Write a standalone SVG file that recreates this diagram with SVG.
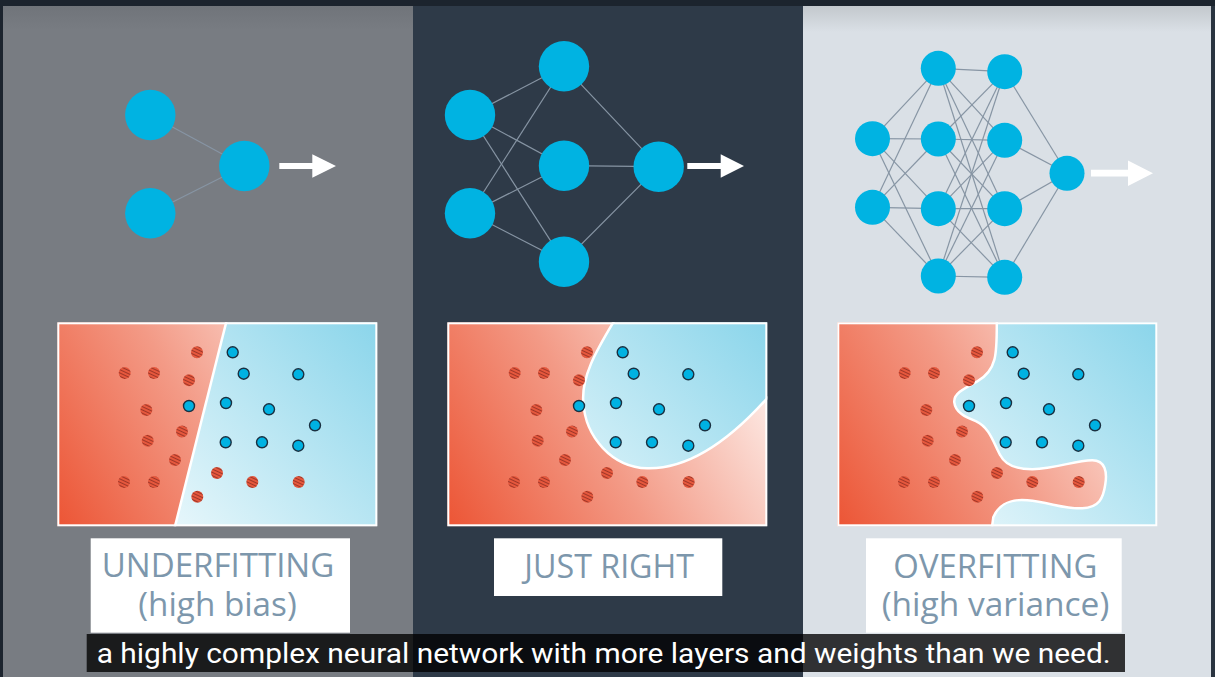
<svg xmlns="http://www.w3.org/2000/svg" width="1215" height="677" viewBox="0 0 1215 677">
<style>
.neuron{fill:#00b3e2}
.wire{stroke:#8795a4;stroke-width:1.2;fill:none}
.arrow{fill:#ffffff}
.red{fill:url(#hatch)}
.blue{fill:#00b2e2;stroke:#1a3041;stroke-width:1.4}
.bound{fill:none;stroke:#ffffff;stroke-width:2.5}
.frame{fill:none;stroke:#ffffff;stroke-width:2}
.lbl{font-family:"Open Sans","Liberation Sans",sans-serif;font-weight:400;font-size:33px;fill:#7d97ac}
.box{fill:#ffffff}
.cap{font-family:Roboto,"Liberation Sans",sans-serif;font-size:27px;fill:#ffffff}
</style>
<defs>
<pattern id="hatch" patternUnits="userSpaceOnUse" width="4" height="3" patternTransform="rotate(25)">
<rect width="4" height="3" fill="#ea5a3e"/>
<line x1="0" y1="1.5" x2="4" y2="1.5" stroke="#9e3628" stroke-width="1.1"/>
</pattern>
<linearGradient id="gRed" gradientUnits="userSpaceOnUse" x1="0" y1="204" x2="300" y2="30">
<stop offset="0" stop-color="#ec5535"/>
<stop offset="0.5" stop-color="#f39a86"/>
<stop offset="1" stop-color="#fdebe6"/>
</linearGradient>
<linearGradient id="gBlue" gradientUnits="userSpaceOnUse" x1="110" y1="204" x2="320" y2="10">
<stop offset="0" stop-color="#e8f7fb"/>
<stop offset="1" stop-color="#8dd6eb"/>
</linearGradient>
<linearGradient id="gTopR" x1="0" y1="0" x2="0" y2="1">
<stop offset="0" stop-color="#c3c8cd"/>
<stop offset="1" stop-color="#dae0e6"/>
</linearGradient>
<linearGradient id="gTopL" x1="0" y1="0" x2="0" y2="1">
<stop offset="0" stop-color="#70747a"/>
<stop offset="1" stop-color="#787c82"/>
</linearGradient>
<clipPath id="plotClip"><rect x="0" y="0" width="320" height="204"/></clipPath>
<g id="dots">
<circle class="red" cx="139.7" cy="30" r="6"/>
<circle class="red" cx="67.4" cy="50.7" r="6"/>
<circle class="red" cx="96.7" cy="50.7" r="6"/>
<circle class="red" cx="131.7" cy="58" r="6"/>
<circle class="red" cx="89" cy="87.7" r="6"/>
<circle class="red" cx="124.7" cy="109.3" r="6"/>
<circle class="red" cx="90.4" cy="118.4" r="6"/>
<circle class="red" cx="117.7" cy="137.7" r="6"/>
<circle class="red" cx="159.7" cy="150.7" r="6"/>
<circle class="red" cx="66.7" cy="159.7" r="6"/>
<circle class="red" cx="96.7" cy="159.7" r="6"/>
<circle class="red" cx="195" cy="159.7" r="6"/>
<circle class="red" cx="241.4" cy="159.7" r="6"/>
<circle class="red" cx="140" cy="174.4" r="6"/>
<circle class="blue" cx="175.4" cy="30" r="5.5"/>
<circle class="blue" cx="186.4" cy="51.4" r="5.5"/>
<circle class="blue" cx="241" cy="52" r="5.5"/>
<circle class="blue" cx="131.7" cy="83.7" r="5.5"/>
<circle class="blue" cx="168.7" cy="80.7" r="5.5"/>
<circle class="blue" cx="211.7" cy="87" r="5.5"/>
<circle class="blue" cx="257.7" cy="103" r="5.5"/>
<circle class="blue" cx="168.4" cy="120" r="5.5"/>
<circle class="blue" cx="204.7" cy="120" r="5.5"/>
<circle class="blue" cx="241" cy="123.4" r="5.5"/>
</g>
</defs>

<!-- backgrounds -->
<rect x="0" y="0" width="1215" height="677" fill="#1c242e"/>
<rect x="3" y="6" width="410" height="671" fill="#787c82"/>
<rect x="3" y="6" width="410" height="24" fill="url(#gTopL)"/>
<rect x="413" y="6" width="390" height="671" fill="#2e3a48"/>
<rect x="803" y="6" width="408" height="671" fill="#dae0e6"/>
<rect x="803" y="6" width="408" height="26" fill="url(#gTopR)"/>
<rect x="1211" y="6" width="4" height="671" fill="#2a3440"/>

<!-- connectors -->
<g id="connectors">
<line class="wire" x1="150.3" y1="115" x2="244.3" y2="166"/>
<line class="wire" x1="150.3" y1="213.3" x2="244.3" y2="166"/>

<line class="wire" x1="470" y1="115" x2="564" y2="66.3"/>
<line class="wire" x1="470" y1="115" x2="564" y2="165.7"/>
<line class="wire" x1="470" y1="115" x2="564" y2="261.7"/>
<line class="wire" x1="470" y1="213.3" x2="564" y2="66.3"/>
<line class="wire" x1="470" y1="213.3" x2="564" y2="165.7"/>
<line class="wire" x1="470" y1="213.3" x2="564" y2="261.7"/>
<line class="wire" x1="564" y1="66.3" x2="658.7" y2="166.7"/>
<line class="wire" x1="564" y1="165.7" x2="658.7" y2="166.7"/>
<line class="wire" x1="564" y1="261.7" x2="658.7" y2="166.7"/>

<g stroke-width="1">
<line class="wire" x1="872.5" y1="138.7" x2="938.3" y2="68.3"/>
<line class="wire" x1="872.5" y1="138.7" x2="938.3" y2="139"/>
<line class="wire" x1="872.5" y1="138.7" x2="938.3" y2="208.7"/>
<line class="wire" x1="872.5" y1="138.7" x2="938.3" y2="276"/>
<line class="wire" x1="872.5" y1="207.3" x2="938.3" y2="68.3"/>
<line class="wire" x1="872.5" y1="207.3" x2="938.3" y2="139"/>
<line class="wire" x1="872.5" y1="207.3" x2="938.3" y2="208.7"/>
<line class="wire" x1="872.5" y1="207.3" x2="938.3" y2="276"/>

<line class="wire" x1="938.3" y1="68.3" x2="1004.7" y2="71.7"/>
<line class="wire" x1="938.3" y1="68.3" x2="1004.7" y2="140.3"/>
<line class="wire" x1="938.3" y1="68.3" x2="1004.7" y2="208.7"/>
<line class="wire" x1="938.3" y1="68.3" x2="1004.7" y2="277.3"/>
<line class="wire" x1="938.3" y1="139" x2="1004.7" y2="71.7"/>
<line class="wire" x1="938.3" y1="139" x2="1004.7" y2="140.3"/>
<line class="wire" x1="938.3" y1="139" x2="1004.7" y2="208.7"/>
<line class="wire" x1="938.3" y1="139" x2="1004.7" y2="277.3"/>
<line class="wire" x1="938.3" y1="208.7" x2="1004.7" y2="71.7"/>
<line class="wire" x1="938.3" y1="208.7" x2="1004.7" y2="140.3"/>
<line class="wire" x1="938.3" y1="208.7" x2="1004.7" y2="208.7"/>
<line class="wire" x1="938.3" y1="208.7" x2="1004.7" y2="277.3"/>
<line class="wire" x1="938.3" y1="276" x2="1004.7" y2="71.7"/>
<line class="wire" x1="938.3" y1="276" x2="1004.7" y2="140.3"/>
<line class="wire" x1="938.3" y1="276" x2="1004.7" y2="208.7"/>
<line class="wire" x1="938.3" y1="276" x2="1004.7" y2="277.3"/>

<line class="wire" x1="1004.7" y1="71.7" x2="1067" y2="173.3"/>
<line class="wire" x1="1004.7" y1="140.3" x2="1067" y2="173.3"/>
<line class="wire" x1="1004.7" y1="208.7" x2="1067" y2="173.3"/>
<line class="wire" x1="1004.7" y1="277.3" x2="1067" y2="173.3"/>
</g>

<path class="arrow" d="M279.3,163 H312.3 V154.3 L336,166 L312.3,177.7 V169 H279.3 Z"/>
<path class="arrow" d="M687.3,163 H720.7 V154.3 L744,166 L720.7,177.7 V169 H687.3 Z"/>
<path class="arrow" d="M1091,169.8 H1128 V160.5 L1153,173.3 L1128,186 V176.6 H1091 Z"/>
</g>

<!-- neurons: underfitting net -->
<g id="net-under">
<circle id="u-in1" class="neuron" cx="150.3" cy="115" r="25.2"/>
<circle id="u-in2" class="neuron" cx="150.3" cy="213.3" r="25.2"/>
<circle id="u-out" class="neuron" cx="244.3" cy="166" r="25.2"/>
</g>

<g id="net-right">
<circle id="r-in1" class="neuron" cx="470" cy="115" r="25.2"/>
<circle id="r-in2" class="neuron" cx="470" cy="213.3" r="25.2"/>
<circle id="r-h1" class="neuron" cx="564" cy="66.3" r="25.2"/>
<circle id="r-h2" class="neuron" cx="564" cy="165.7" r="25.2"/>
<circle id="r-h3" class="neuron" cx="564" cy="261.7" r="25.2"/>
<circle id="r-out" class="neuron" cx="658.7" cy="166.7" r="25.2"/>
</g>

<g id="net-over">
<circle id="o-in1" class="neuron" cx="872.5" cy="138.7" r="17.5"/>
<circle id="o-in2" class="neuron" cx="872.5" cy="207.3" r="17.5"/>
<circle id="o-a1" class="neuron" cx="938.3" cy="68.3" r="17.5"/>
<circle id="o-a2" class="neuron" cx="938.3" cy="139" r="17.5"/>
<circle id="o-a3" class="neuron" cx="938.3" cy="208.7" r="17.5"/>
<circle id="o-a4" class="neuron" cx="938.3" cy="276" r="17.5"/>
<circle id="o-b1" class="neuron" cx="1004.7" cy="71.7" r="17.5"/>
<circle id="o-b2" class="neuron" cx="1004.7" cy="140.3" r="17.5"/>
<circle id="o-b3" class="neuron" cx="1004.7" cy="208.7" r="17.5"/>
<circle id="o-b4" class="neuron" cx="1004.7" cy="277.3" r="17.5"/>
<circle id="o-out" class="neuron" cx="1067" cy="173.3" r="17.5"/>
</g>

<!-- plots -->
<g id="plot-under" transform="translate(57.3,322.3)">
<g clip-path="url(#plotClip)">
<rect width="320" height="204" fill="url(#gRed)"/>
<path d="M169.4,0 L117.7,204 L320,204 L320,0 Z" fill="url(#gBlue)"/>
<path class="bound" d="M169.4,-2 L117.2,206"/>
</g>
<use href="#dots"/>
<rect class="frame" x="1" y="1" width="318" height="202"/>
</g>

<g id="plot-right" transform="translate(447.3,322.3)">
<g clip-path="url(#plotClip)">
<rect width="320" height="204" fill="url(#gRed)"/>
<path d="M166,0 C148,30 134,55 136,80 C138,115 165,145 200,146 C240,147 280,120 318,78 L320,76 L320,0 Z" fill="url(#gBlue)"/>
<path class="bound" d="M167,-2 L166,0 C148,30 134,55 136,80 C138,115 165,145 200,146 C240,147 280,120 318,78 L322,74"/>
</g>
<use href="#dots"/>
<rect class="frame" x="1" y="1" width="318" height="202"/>
</g>

<g id="plot-over" transform="translate(837.3,322.3)">
<g clip-path="url(#plotClip)">
<rect width="320" height="204" fill="url(#gRed)"/>
<path d="M159.5,0 C159.5,30 160,48 140,59 C125,67 116,72 117,80 C118,90 128,95 139,99 C152,105 156,120 163,133 C168,143 178,147 195,147 C220,146 238,138 255,138 C268,138 270,150 268,162 C266,176 262,185 245,186 C228,187 212,180 190,178 C170,176 160,185 156,195 L154.5,206 L320,206 L320,0 Z" fill="url(#gBlue)"/>
<path class="bound" d="M159.5,-2 L159.5,0 C159.5,30 160,48 140,59 C125,67 116,72 117,80 C118,90 128,95 139,99 C152,105 156,120 163,133 C168,143 178,147 195,147 C220,146 238,138 255,138 C268,138 270,150 268,162 C266,176 262,185 245,186 C228,187 212,180 190,178 C170,176 160,185 156,195 L154.5,206"/>
</g>
<use href="#dots"/>
<rect class="frame" x="1" y="1" width="318" height="202"/>
</g>

<!-- labels -->
<g id="label-under">
<rect class="box" x="90.7" y="538.3" width="259.3" height="94.4"/>
<text class="lbl" x="218" y="577.3" text-anchor="middle" textLength="232.6" lengthAdjust="spacingAndGlyphs">UNDERFITTING</text>
<text class="lbl" x="217.5" y="616" text-anchor="middle" textLength="158.4" lengthAdjust="spacingAndGlyphs">(high bias)</text>
</g>
<g id="label-right">
<rect class="box" x="494" y="538.3" width="228.3" height="57.7"/>
<text class="lbl" x="609.2" y="577.7" text-anchor="middle" textLength="169.7" lengthAdjust="spacingAndGlyphs">JUST RIGHT</text>
</g>
<g id="label-over">
<rect class="box" x="866" y="538.3" width="255.7" height="94.4"/>
<text class="lbl" x="995.3" y="577.7" text-anchor="middle" textLength="204" lengthAdjust="spacingAndGlyphs">OVERFITTING</text>
<text class="lbl" x="995.5" y="616" text-anchor="middle" textLength="227.6" lengthAdjust="spacingAndGlyphs">(high variance)</text>
</g>

<!-- caption -->
<g id="caption">
<rect x="86.7" y="634" width="1038.3" height="38" fill="#000000" fill-opacity="0.78"/>
<text class="cap" x="96.7" y="663.3" textLength="1014" lengthAdjust="spacingAndGlyphs">a highly complex neural network with more layers and weights than we need.</text>
</g>
</svg>
